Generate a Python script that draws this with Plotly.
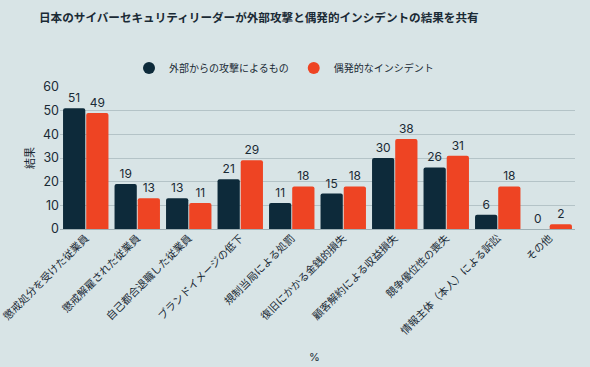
import plotly.graph_objects as go

categories = ["懲戒処分を受けた従業員", "懲戒解雇された従業員", "自己都合退職した従業員", "ブランドイメージの低下",
              "規制当局による処罰", "復旧にかかる金銭的損失", "顧客解約による収益損失", "競争優位性の喪失",
              "情報主体（本人）による訴訟", "その他"]
external = [51, 19, 13, 21, 11, 15, 30, 26, 6, 0]
accidental = [49, 13, 11, 29, 18, 18, 38, 31, 18, 2]
series_names = ["外部からの攻撃によるもの", "偶発的なインシデント"]
y_ticks = [0, 10, 20, 30, 40, 50, 60]

FONT = "Inter, Noto Sans CJK JP, sans-serif"
JP = "Noto Sans CJK JP"
BG = "#d8e4e6"
NAVY = "#0d2a3a"
ORANGE = "#ee4423"
TXT = "#1a2a35"

fig = go.Figure()
for name, vals, col in [(series_names[0], external, NAVY), (series_names[1], accidental, ORANGE)]:
    fig.add_trace(go.Bar(
        x=categories, y=vals, name=name, showlegend=False,
        marker=dict(color=col, cornerradius=2, line=dict(width=0)),
        text=[str(v) for v in vals], textposition="outside", cliponaxis=False,
        textfont=dict(family=FONT, size=12, color=TXT),
    ))
# legend entries with circular markers
for name, col in [(series_names[0], NAVY), (series_names[1], ORANGE)]:
    fig.add_trace(go.Scatter(x=[None], y=[None], mode="markers", name=name,
                             marker=dict(color=col, size=11, symbol="circle")))

fig.update_layout(
    width=590, height=367,
    paper_bgcolor=BG, plot_bgcolor=BG,
    margin=dict(l=60, r=15, t=87, b=138),
    barmode="group", bargap=0.1, bargroupgap=0.04,
    font=dict(family=FONT, color=TXT),
    title=dict(text="<b>日本のサイバーセキュリティリーダーが外部攻撃と偶発的インシデントの結果を共有</b>",
               x=39/590, xanchor="left", y=1 - 18/367, yanchor="middle",
               font=dict(family=JP, size=11.6, color=TXT)),
    legend=dict(orientation="h", x=0.435, xanchor="center", y=1 + 19/142, yanchor="middle",
                font=dict(family=JP, size=10, color=TXT),
                itemsizing="constant", bgcolor="rgba(0,0,0,0)", itemwidth=30),
    annotations=[dict(text="%", x=0.495, y=-128/142, xref="paper", yref="paper",
                      showarrow=False, font=dict(family=FONT, size=11, color=TXT),
                      xanchor="center", yanchor="middle")],
)
fig.update_xaxes(tickangle=-45, tickfont=dict(family=JP, size=10.5, color=TXT),
                 showgrid=False, showline=False, ticks="", automargin=False)
fig.update_yaxes(range=[0, 60], tickvals=y_ticks, gridcolor="#b4c3c7", gridwidth=1,
                 zeroline=True, zerolinecolor="#9fb0b5", zerolinewidth=1, automargin=False,
                 tickfont=dict(family=FONT, size=12.5, color=TXT),
                 title=dict(text="結果", font=dict(family=JP, size=11, color=TXT), standoff=6))

fig.write_html("out.html", config={"displayModeBar": False},
               post_script="document.body.style.margin='0';document.body.style.overflow='hidden';")
